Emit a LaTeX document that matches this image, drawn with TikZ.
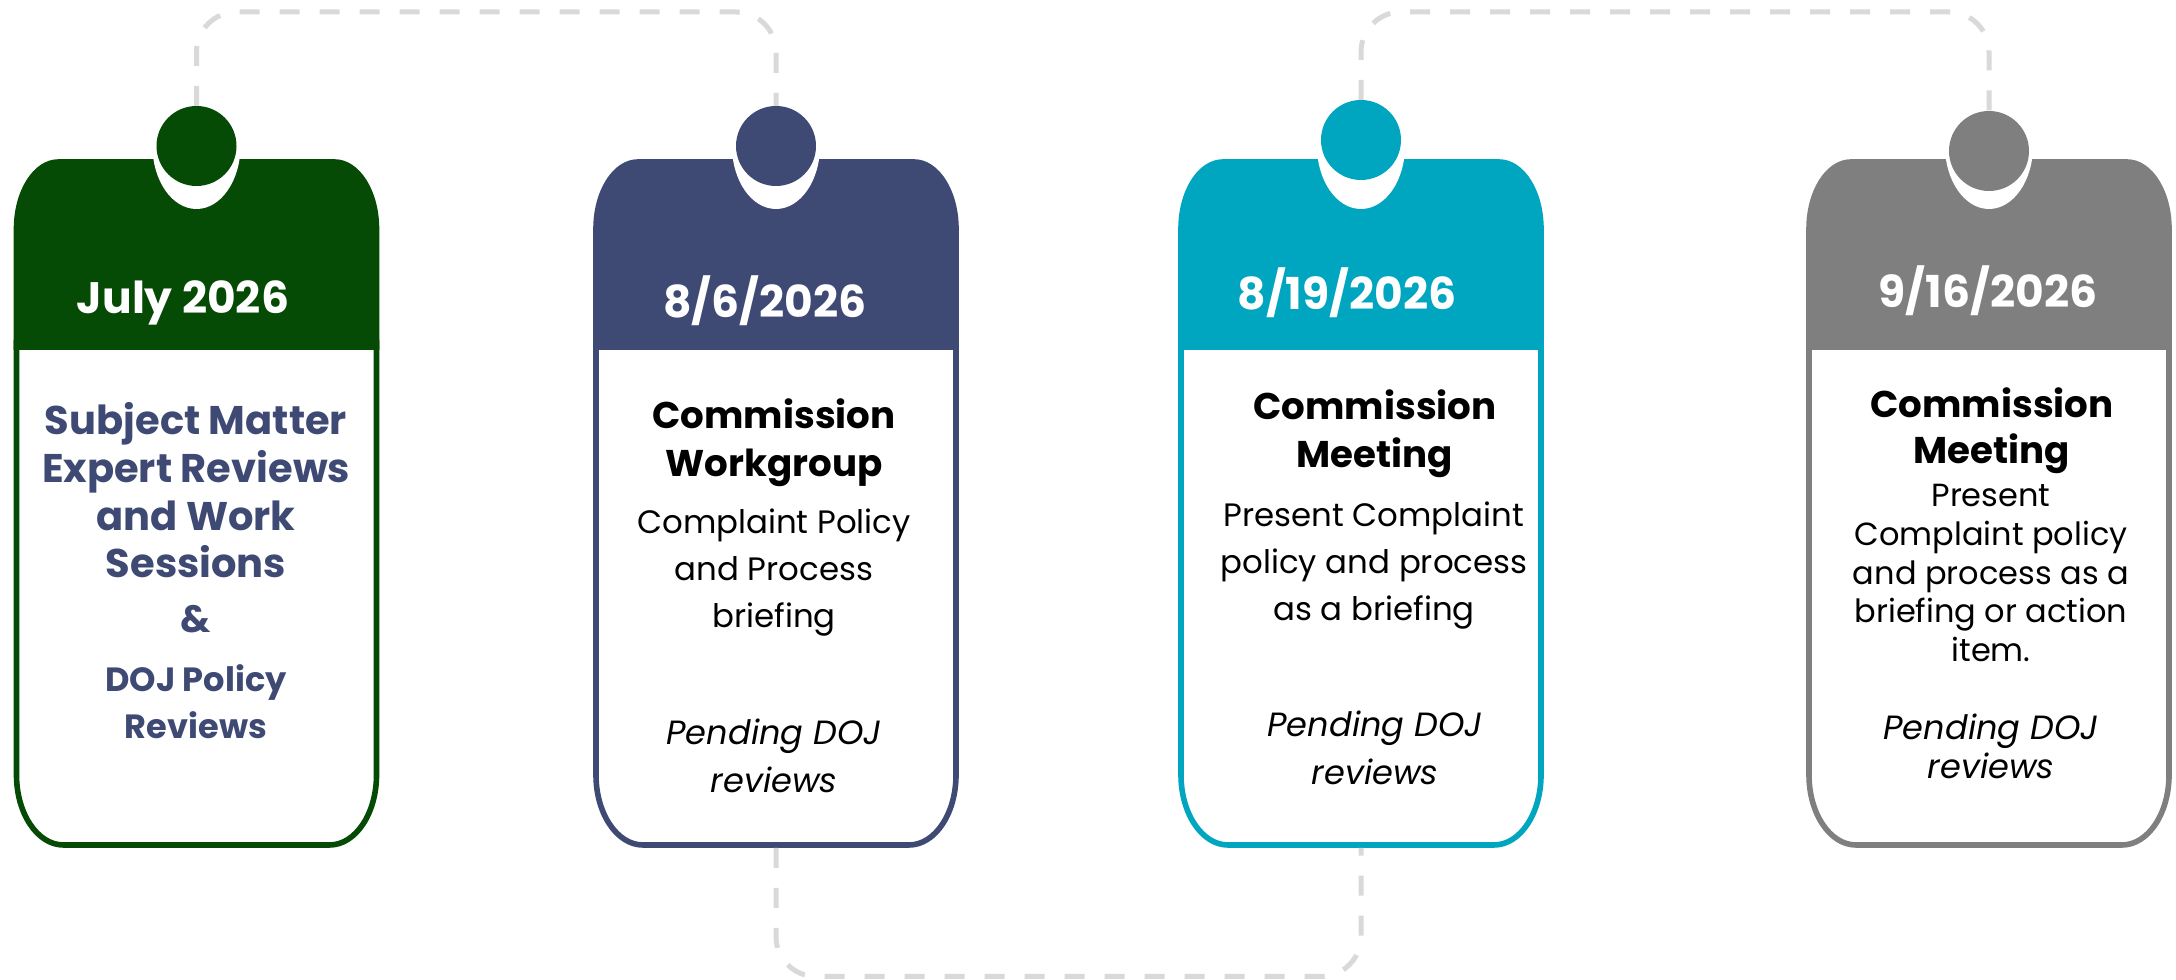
\documentclass[tikz,border=0pt]{standalone}
\usepackage{fontspec}
\setmainfont{Poppins}

\definecolor{cardgreen}{RGB}{5,74,5}
\definecolor{cardnavy}{RGB}{62,74,115}
\definecolor{cardteal}{RGB}{0,165,191}
\definecolor{cardgray}{RGB}{127,127,127}
\definecolor{linkgray}{RGB}{217,217,217}

\begin{document}
\begin{tikzpicture}[x=0.5pt, y=0.5pt,
    link/.style={draw=linkgray, line width=2.5pt, dash pattern=on 10pt off 10pt, rounded corners=20pt},
    dot/.style={circle, minimum size=40pt, inner sep=0pt, outer sep=0pt},
    date/.style={text=white, font=\fontsize{22}{26}\selectfont\bfseries},
    head/.style={align=center, font=\fontsize{18.6}{24}\selectfont\bfseries},
    body/.style={align=center, font=\fontsize{16.2}{23.5}\selectfont},
    pending/.style={align=center, font=\fontsize{16.8}{24}\selectfont\itshape},
  ]
  \useasboundingbox (0,0) rectangle (2176,980);

  % cards: white body, coloured head, notch and dot
  \foreach \cx/\dy/\col [count=\i] in {196.5/834/cardgreen, 776/834/cardnavy, 1361/840/cardteal, 1989/829/cardgray}{
    \filldraw[fill=white, draw=\col, line width=2.8pt]
      ({\cx-180},640) -- ({\cx-180},205)
      arc[start angle=180, end angle=270, x radius=47, y radius=70] -- ({\cx+133},135)
      arc[start angle=270, end angle=360, x radius=47, y radius=70] -- ({\cx+180},640);
    \filldraw[fill=\col, draw=\col, line width=2.8pt]
      ({\cx-180},633) -- ({\cx-180},751)
      arc[start angle=180, end angle=90, x radius=42, y radius=67] -- ({\cx+138},818)
      arc[start angle=90, end angle=0, x radius=42, y radius=67] -- ({\cx+180},633) -- cycle;
    \fill[white] (\cx,834) ellipse[x radius=44, y radius=63];
    \node[dot, fill=\col] (dot\i) at (\cx,\dy) {};
    \coordinate (foot\i) at (\cx,132);
  }

  % dashed links between the cards
  \coordinate (ridge) at (0,968);
  \coordinate (floor) at (0,3.5);
  \draw[link] (dot1.north) -- (dot1.north |- ridge) -- (dot2.north |- ridge) -- (dot2.north);
  \draw[link] (dot3.north) -- (dot3.north |- ridge) -- (dot4.north |- ridge) -- (dot4.north);
  \draw[link] (foot2) -- (foot2 |- floor) -- (foot3 |- floor) -- (foot3);

  % dates
  \node[date] (date1) at (183,677) {July 2026};
  \node[date] (date2) at (765,679) {8/6/2026};
  \node[date] (date3) at (1347,687) {8/19/2026};
  \node[date] (date4) at (1988,689) {9/16/2026};

  % July
  \node[head, text=cardnavy, font=\fontsize{20}{23.8}\selectfont\bfseries] (task1) at (196,489.5)
    {Subject Matter\\Expert Reviews\\and Work\\Sessions};
  \node[head, text=cardnavy, font=\fontsize{19}{20}\selectfont\bfseries] (amp1) at (196,361) {\&};
  \node[head, text=cardnavy, font=\fontsize{16.8}{23.5}\selectfont\bfseries] (doj1) at (196,278.5)
    {DOJ Policy\\Reviews};

  % 8/6
  \node[head] (task2) at (774,537) {Commission\\Workgroup};
  \node[body] (note2) at (774,407) {Complaint Policy\\and Process\\briefing};
  \node[pending] (wait2) at (774,224) {Pending DOJ\\reviews};

  % 8/19
  \node[head] (task3) at (1375,546) {Commission\\Meeting};
  \node[body] (note3) at (1374,414) {Present Complaint\\policy and process\\as a briefing};
  \node[pending] (wait3) at (1375,232) {Pending DOJ\\reviews};

  % 9/16
  \node[head, font=\fontsize{18.6}{23}\selectfont\bfseries] (task4) at (1992,549) {Commission\\Meeting};
  \node[body, font=\fontsize{16}{19.3}\selectfont] (note4) at (1991,407)
    {Present\\Complaint policy\\and process as a\\briefing or action\\item.};
  \node[pending, font=\fontsize{16.8}{19.5}\selectfont\itshape] (wait4) at (1991,234) {Pending DOJ\\reviews};
\end{tikzpicture}
\end{document}
